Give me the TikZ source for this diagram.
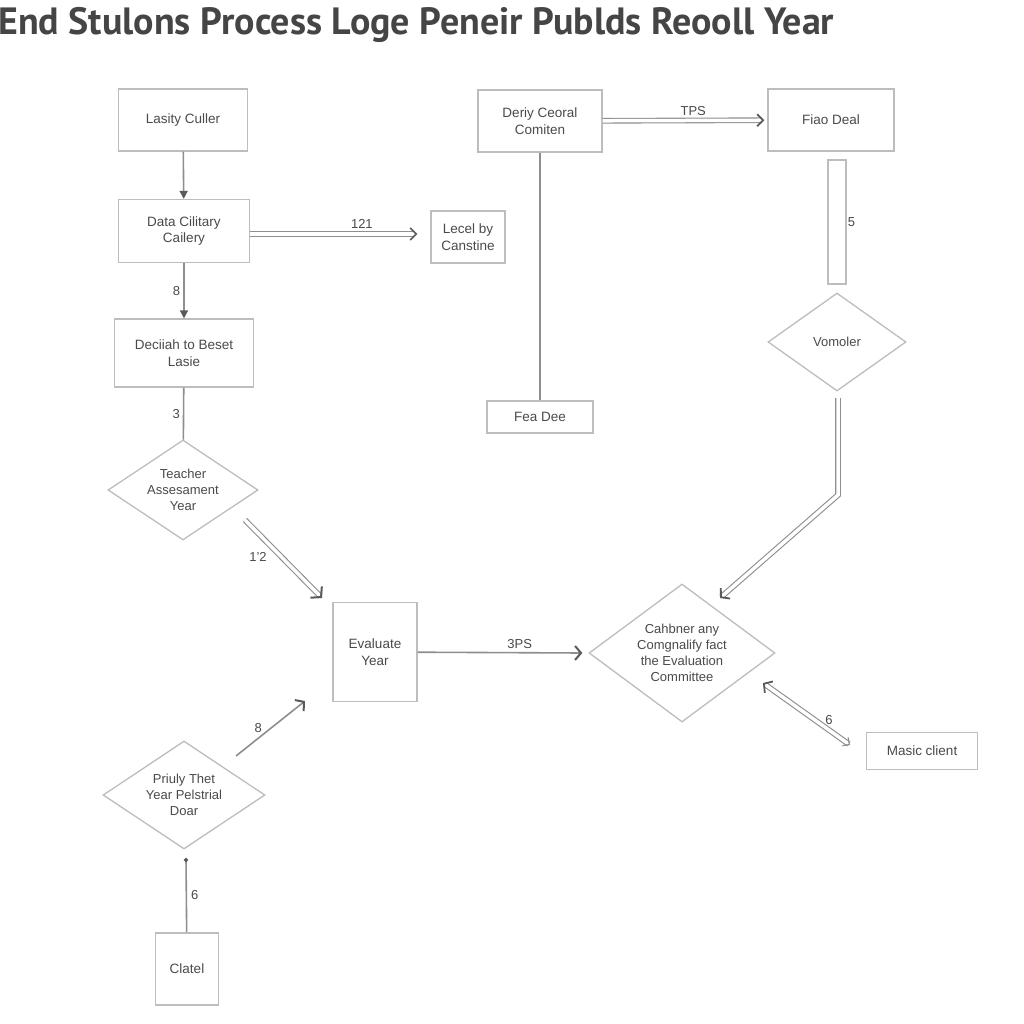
\documentclass[tikz,border=0pt]{standalone}
\usepackage{fontspec}
\setmainfont{Liberation Sans}
\newfontfamily\titlefont{PT Sans}
\usetikzlibrary{shapes.geometric,arrows.meta,calc}
\definecolor{boxc}{HTML}{BDBDBD}
\definecolor{linec}{HTML}{8E8E8E}
\definecolor{headc}{HTML}{5A5A5A}
\definecolor{txtc}{HTML}{4A4A4A}
\definecolor{titlec}{HTML}{454545}
\begin{document}
\begin{tikzpicture}[x=1pt,y=-1pt,
  box/.style={draw=boxc, line width=1.3pt, fill=white, text=txtc, align=center,
    font=\fontsize{13.5}{16.5}\selectfont, inner sep=2pt},
  dia/.style={diamond, draw=boxc, line width=1.3pt, fill=white, text=txtc, align=center,
    font=\fontsize{13}{16}\selectfont, inner sep=-14pt},
  conn/.style={draw=linec, line width=1.6pt},
  arrF/.style={conn, -{Triangle[length=8pt,width=8pt,color=headc]}},
  arrB/.style={conn, -{Straight Barb[length=6pt,width=14pt,line width=2pt,color=headc]}},
  dbl/.style={draw=linec, line width=1.1pt, double=white, double distance=3.5pt},
  lab/.style={text=txtc, font=\fontsize{13}{15}\selectfont, inner sep=1pt}
]
\useasboundingbox (0,0) rectangle (1024,1024);
\fill[white] (0,0) rectangle (1024,1024);

\node[anchor=west, inner sep=0, text=titlec, font=\titlefont\bfseries\fontsize{38}{42}\selectfont] (title) at (-2,25) {End Stulons Process Loge Peneir Publds Reooll Year};

% nodes
\node[box, minimum width=129, minimum height=62] (lasity) at (183,120) {Lasity Culler};
\node[box, minimum width=131, minimum height=63] (data) at (184,231) {Data Cilitary\\Cailery};
\node[box, minimum width=74, minimum height=52] (lecel) at (468,237) {Lecel by\\Canstine};
\node[box, minimum width=139, minimum height=68] (deci) at (184,353) {Deciiah to Beset\\Lasie};
\node[dia, minimum width=150, minimum height=100] (teach) at (183,490) {Teacher\\Assesament\\Year};
\node[box, minimum width=84, minimum height=99] (eval) at (375,652) {Evaluate\\Year};
\node[dia, minimum width=186, minimum height=138] (cahb) at (682,653) {Cahbner any\\Comgnalify fact\\the Evaluation\\Committee};
\node[box, minimum width=111, minimum height=37] (masic) at (922,751) {Masic client};
\node[box, minimum width=124, minimum height=62] (deriy) at (540,121) {Deriy Ceoral\\Comiten};
\node[box, minimum width=106, minimum height=32] (fea) at (540,417) {Fea Dee};
\node[box, minimum width=126, minimum height=62] (fiao) at (831,120) {Fiao Deal};
\node[box, minimum width=18, minimum height=124, inner sep=0pt] (bar) at (837,222) {};
\node[dia, minimum width=138, minimum height=98] (vomo) at (837,342) {Vomoler};
\node[dia, minimum width=162, minimum height=108] (priu) at (184,795) {Priuly Thet\\Year Pelstrial\\Doar};
\node[box, minimum width=63, minimum height=72] (clat) at (187,969) {Clatel};

% free-end coordinates
\coordinate (t1) at (245,520);
\coordinate (t2) at (322,598);
\coordinate (v1) at (838,398);
\coordinate (v2) at (838,495);
\coordinate (v3) at (720,598);
\coordinate (m1) at (850,745);
\coordinate (m2) at (763,683);
\coordinate (p1) at (236,756);
\coordinate (p2) at (305,701);
\coordinate (c1) at (186,858);

% connectors
\draw[arrF] (lasity) -- (data);
\draw[dbl, -{Straight Barb[length=6pt,width=12pt,line width=1.6pt,color=headc]}, shorten >=13pt]
  ([yshift=-3pt]data.east) -- node[lab, above=4pt, pos=0.62] {121} ([yshift=-3pt]data.east -| lecel.west);
\draw[arrF] (data) -- node[lab, left=2pt] {8} (deci);
\draw[conn] (deci) -- node[lab, left=2pt] {3} (teach);
\draw[dbl, -{Straight Barb[length=7pt,width=16pt,line width=2pt,color=headc]}]
  (t1) -- (t2);
\node[lab] (lab12) at (258,557) {1'2};
\draw[arrB] (eval) -- node[lab, above=2pt, pos=0.62] {3PS} ($(cahb.west)+(-6,0)$);
\draw[dbl, -{Straight Barb[length=6pt,width=14pt,line width=1.8pt,color=headc]}]
  (v1) -- (v2) -- (v3);
\draw[dbl, {Straight Barb[length=6pt,width=14pt,line width=1.8pt,color=headc]}-{Straight Barb[length=5pt,width=10pt,line width=1.2pt,color=linec]}]
  (m2) -- node[lab, above right=0pt, pos=0.7] {6} (m1);
\draw[conn] (deriy) -- (fea);
\draw[dbl, -{Straight Barb[length=6pt,width=12pt,line width=1.8pt,color=headc]}, shorten >=3pt]
  (deriy) -- node[lab, above=3pt, pos=0.55] {TPS} (fiao);
\node[lab, right=0pt] (lab5) at (bar.east) {5};
\draw[arrB] (p1) -- node[lab, above left=0pt, pos=0.4] {8} (p2);
\draw[conn, -{Circle[length=4pt,color=headc]}] (clat) -- node[lab, right=3pt] {6} (c1);
\end{tikzpicture}
\end{document}
